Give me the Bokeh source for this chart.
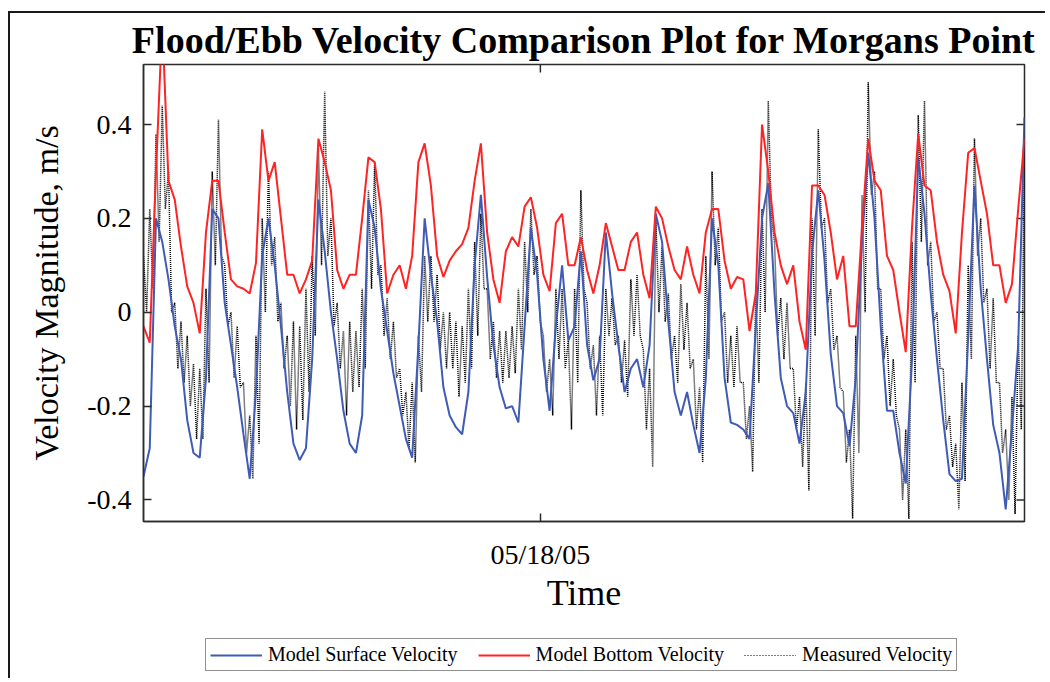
import numpy as np
from bokeh.plotting import figure
from bokeh.layouts import column
from bokeh.models import Range1d, FixedTicker, Legend, LegendItem
from bokeh.embed import file_html
from bokeh.resources import INLINE

chart_title = "Flood/Ebb Velocity Comparison Plot for Morgans Point"
x_label = "Time"
y_label = "Velocity Magnitude, m/s"
x_ticks = [0.0]
x_tick_labels = ["05/18/05"]
y_ticks = [-0.4, -0.2, 0.0, 0.2, 0.4]
y_tick_labels = ["-0.4", "-0.2", "0", "0.2", "0.4"]
series_names = ["Model Surface Velocity", "Model Bottom Velocity", "Measured Velocity"]

# time axis: days relative to 05/18/05 00:00, model output every 3 hours
t_start = -7.94
t_step = 0.125
t_end = 9.686
y_min, y_max = -0.446, 0.528

surface = [
    -0.35, -0.29, 0.20, 0.15, 0.07, -0.03, -0.10, -0.23, -0.30, -0.31,
    -0.14, 0.22, 0.20, 0.02, -0.07, -0.16, -0.26, -0.355, -0.17, 0.12,
    0.20, 0.10, -0.03, -0.17, -0.28, -0.315, -0.29, -0.10, 0.24, 0.13,
    0.00, -0.10, -0.21, -0.28, -0.30, -0.22, 0.24, 0.18, 0.05, -0.04,
    -0.13, -0.20, -0.27, -0.31, -0.07, 0.20, 0.08, -0.02, -0.16, -0.22,
    -0.245, -0.26, -0.17, 0.10, 0.25, 0.075, -0.07, -0.16, -0.205, -0.20,
    -0.235, -0.03, 0.18, 0.08, -0.10, -0.21, -0.03, 0.10, -0.06, -0.03,
    0.13, -0.07, -0.145, -0.10, 0.17, 0.04, -0.07, -0.17, -0.12, -0.10,
    -0.16, -0.07, 0.21, 0.15, -0.02, -0.17, -0.22, -0.17, -0.24, -0.30,
    -0.14, 0.20, 0.10, -0.14, -0.235, -0.24, -0.25, -0.27, -0.03, 0.20,
    0.275, 0.04, -0.14, -0.20, -0.215, -0.28, -0.17, 0.125, 0.26, 0.11,
    -0.09, -0.20, -0.215, -0.285, -0.14, 0.15, 0.34, 0.20, -0.03, -0.21,
    -0.21, -0.30, -0.365, -0.10, 0.33, 0.21, 0.04, -0.10, -0.23, -0.345,
    -0.36, -0.355, -0.05, 0.27, 0.05, -0.10, -0.24, -0.30, -0.42, -0.25,
    -0.07, 0.415,
]

bottom = [
    -0.03, -0.065, 0.30, 0.62, 0.28, 0.24, 0.14, 0.055, 0.02, -0.045,
    0.17, 0.28, 0.28, 0.17, 0.07, 0.055, 0.05, 0.04, 0.105, 0.39,
    0.28, 0.32, 0.20, 0.08, 0.08, 0.04, 0.07, 0.11, 0.37, 0.32,
    0.26, 0.09, 0.05, 0.08, 0.08, 0.20, 0.33, 0.32, 0.22, 0.04,
    0.08, 0.10, 0.05, 0.12, 0.32, 0.36, 0.27, 0.12, 0.075, 0.11,
    0.13, 0.145, 0.18, 0.28, 0.36, 0.17, 0.07, 0.02, 0.13, 0.16,
    0.14, 0.225, 0.245, 0.18, 0.08, 0.045, 0.19, 0.21, 0.10, 0.10,
    0.16, 0.09, 0.04, 0.10, 0.19, 0.14, 0.09, 0.09, 0.15, 0.17,
    0.08, 0.03, 0.225, 0.20, 0.14, 0.09, 0.07, 0.14, 0.08, 0.04,
    0.17, 0.22, 0.22, 0.11, 0.05, 0.075, 0.07, -0.04, 0.04, 0.40,
    0.30, 0.17, 0.10, 0.06, 0.10, -0.02, -0.08, 0.27, 0.27, 0.25,
    0.17, 0.07, 0.12, -0.03, -0.03, 0.18, 0.37, 0.28, 0.26, 0.12,
    0.09, 0.00, -0.085, 0.18, 0.38, 0.27, 0.26, 0.15, 0.08, 0.045,
    -0.045, 0.17, 0.34, 0.35, 0.28, 0.21, 0.10, 0.10, 0.02, 0.06,
    0.22, 0.37,
]

# measured velocity: upper and lower edge of the dense measured trace
measured_hi = [
    0.12, 0.22, 0.38, 0.44, 0.30, 0.02, -0.02, -0.05, -0.11, -0.12,
    0.05, 0.30, 0.41, 0.10, 0.00, -0.03, -0.15, -0.22, -0.05, 0.20,
    0.30, 0.16, 0.02, -0.05, -0.02, -0.03, 0.05, 0.12, 0.35, 0.47,
    0.20, 0.02, -0.04, -0.02, -0.04, 0.05, 0.26, 0.32, 0.10, 0.03,
    -0.02, -0.12, -0.17, -0.15, -0.05, 0.12, 0.12, 0.08, 0.00, 0.00,
    -0.02, -0.03, 0.05, 0.15, 0.21, 0.05, -0.02, -0.04, -0.04, -0.03,
    0.05, 0.15, 0.22, 0.12, -0.05, -0.10, 0.05, 0.05, -0.06, 0.05,
    0.26, 0.02, -0.07, -0.05, 0.05, 0.03, -0.05, -0.06, 0.07, 0.08,
    -0.08, -0.12, 0.20, 0.14, 0.04, -0.05, 0.06, 0.02, -0.10, -0.16,
    0.12, 0.30, 0.18, 0.00, -0.05, -0.03, -0.15, -0.20, 0.05, 0.22,
    0.45, 0.15, 0.03, 0.02, -0.12, -0.18, -0.15, 0.20, 0.39, 0.20,
    0.05, -0.05, -0.17, -0.25, -0.05, 0.25, 0.49, 0.30, 0.05, -0.05,
    -0.10, -0.25, -0.25, 0.15, 0.42, 0.45, 0.15, 0.00, -0.12, -0.22,
    -0.28, -0.15, 0.10, 0.37, 0.20, 0.05, 0.03, -0.15, -0.25, -0.18,
    -0.05, 0.36,
]

measured_lo = [
    0.00, 0.05, 0.15, 0.22, 0.00, -0.12, -0.15, -0.20, -0.27, -0.27,
    -0.15, 0.10, 0.12, -0.03, -0.14, -0.16, -0.30, -0.355, -0.28, 0.00,
    0.10, -0.02, -0.12, -0.20, -0.25, -0.23, -0.17, -0.05, 0.10, 0.12,
    -0.03, -0.12, -0.22, -0.17, -0.16, -0.12, 0.05, 0.08, -0.05, -0.10,
    -0.14, -0.22, -0.29, -0.32, -0.17, -0.02, -0.02, -0.08, -0.12, -0.12,
    -0.18, -0.15, -0.12, -0.05, 0.05, -0.10, -0.14, -0.15, -0.14, -0.13,
    -0.08, 0.00, 0.08, -0.02, -0.17, -0.22, -0.10, -0.12, -0.25, -0.15,
    0.05, -0.12, -0.22, -0.22, -0.05, -0.07, -0.15, -0.18, -0.05, -0.05,
    -0.25, -0.33, 0.00, -0.02, -0.10, -0.15, -0.08, -0.12, -0.25, -0.32,
    -0.10, 0.10, -0.02, -0.15, -0.16, -0.15, -0.27, -0.34, -0.15, 0.00,
    0.20, -0.05, -0.10, -0.12, -0.25, -0.33, -0.38, -0.05, 0.18, 0.02,
    -0.08, -0.16, -0.32, -0.44, -0.30, 0.00, 0.25, 0.05, -0.10, -0.20,
    -0.22, -0.40, -0.44, -0.15, 0.15, 0.10, -0.02, -0.12, -0.25, -0.33,
    -0.42, -0.36, -0.10, 0.12, 0.02, -0.12, -0.15, -0.30, -0.40, -0.43,
    -0.25, 0.10,
]

n = len(surface)
t = t_start + t_step * np.arange(n)
t_meas = np.empty(2 * n)
t_meas[0::2] = t
t_meas[1::2] = t + t_step / 2
v_meas = np.empty(2 * n)
v_meas[0::2] = measured_hi
v_meas[1::2] = measured_lo

SERIF = "Liberation Serif"
AX = "#2b2b2b"
BLUE = "#3f5bb5"
RED = "#ff2424"
FRAME_W, FRAME_H = 881, 457
TICK = 8

p = figure(
    width=1035, height=620,
    x_range=Range1d(t_start, t_end), y_range=Range1d(y_min, y_max),
    output_backend="svg", toolbar_location=None,
    min_border_left=133, min_border_right=21, min_border_top=51, min_border_bottom=112,
    x_axis_label=x_label, y_axis_label=y_label,
)
p.title.text = chart_title
p.title.align = "center"
p.title.text_font = SERIF
p.title.text_font_style = "bold"
p.title.text_font_size = "38px"
p.title.text_color = "black"
p.title.standoff = 7

p.xgrid.visible = False
p.ygrid.visible = False
p.outline_line_color = AX
p.outline_line_width = 1.5
p.background_fill_color = "white"
p.border_fill_color = "white"

xb = p.below[0]
yl = p.left[0]
xb.ticker = FixedTicker(ticks=x_ticks)
xb.major_label_overrides = dict(zip(x_ticks, x_tick_labels))
yl.ticker = FixedTicker(ticks=y_ticks)
yl.major_label_overrides = dict(zip(y_ticks, y_tick_labels))

for ax in [xb, yl]:
    ax.major_tick_in = TICK
    ax.major_tick_out = 0
    ax.minor_tick_line_color = None
    ax.axis_line_color = AX
    ax.axis_line_width = 1.5
    ax.major_tick_line_color = AX
    ax.major_tick_line_width = 1.5
    ax.major_label_text_font = SERIF
    ax.major_label_text_font_size = "28px"
    ax.major_label_text_color = "black"
    ax.axis_label_text_font = SERIF
    ax.axis_label_text_font_style = "normal"
    ax.axis_label_text_font_size = "34px"
    ax.axis_label_text_color = "black"

xb.axis_label_text_font_size = "36px"
yl.major_label_standoff = 12
yl.axis_label_standoff = 19
xb.major_label_standoff = 17
xb.axis_label_standoff = 0

# inward ticks on the top and right frame edges (MATLAB box style)
dx = TICK * (t_end - t_start) / FRAME_W
dy = TICK * (y_max - y_min) / FRAME_H
p.segment(x0=[t_end] * len(y_ticks), x1=[t_end - dx] * len(y_ticks), y0=y_ticks, y1=y_ticks,
          line_color=AX, line_width=1.5)
p.segment(x0=x_ticks, x1=x_ticks, y0=[y_max] * len(x_ticks), y1=[y_max - dy] * len(x_ticks),
          line_color=AX, line_width=1.5)

MEAS_STYLE = dict(line_color="black", line_width=1.5, line_dash="1 1")
SURF_STYLE = dict(line_color=BLUE, line_width=2)
BOT_STYLE = dict(line_color=RED, line_width=2)

p.line(t_meas, v_meas, **MEAS_STYLE)
p.line(t, surface, **SURF_STYLE)
p.line(t, bottom, **BOT_STYLE)

# legend strip below the axes (separate canvas so the boxed legend is not clipped);
# its key glyphs reuse the series, drawn outside this strip's visible range
lg = figure(width=1035, height=45, x_range=Range1d(t_start, t_end), y_range=Range1d(5, 6),
            x_axis_type=None, y_axis_type=None, output_backend="svg",
            toolbar_location=None, min_border=0)
lg.outline_line_color = None
lg.border_fill_color = "white"
lg.background_fill_color = "white"
lg.xgrid.visible = False
lg.ygrid.visible = False
k_surf = lg.line(t, surface, **SURF_STYLE)
k_bot = lg.line(t, bottom, **BOT_STYLE)
k_meas = lg.line(t_meas, v_meas, line_color="black", line_width=1.2, line_dash="1 2")

legend = Legend(
    items=[
        LegendItem(label=series_names[0], renderers=[k_surf]),
        LegendItem(label=series_names[1], renderers=[k_bot]),
        LegendItem(label=series_names[2], renderers=[k_meas]),
    ],
    orientation="horizontal", location=(62, 7),
)
legend.label_text_font = SERIF
legend.label_text_font_size = "20px"
legend.label_text_color = "black"
legend.glyph_width = 52
legend.glyph_height = 18
legend.label_standoff = 6
legend.spacing = 20
legend.padding = 4
legend.margin = 0
legend.border_line_color = "#222222"
legend.border_line_width = 1.5
legend.background_fill_color = "white"
lg.add_layout(legend)

page = column(p, lg, spacing=0,
              styles={"margin-left": "8px", "margin-top": "11px",
                      "border-left": "2px solid #1a1a1a", "border-top": "2px solid #1a1a1a"})

open("out.html", "w").write(file_html(page, INLINE))
